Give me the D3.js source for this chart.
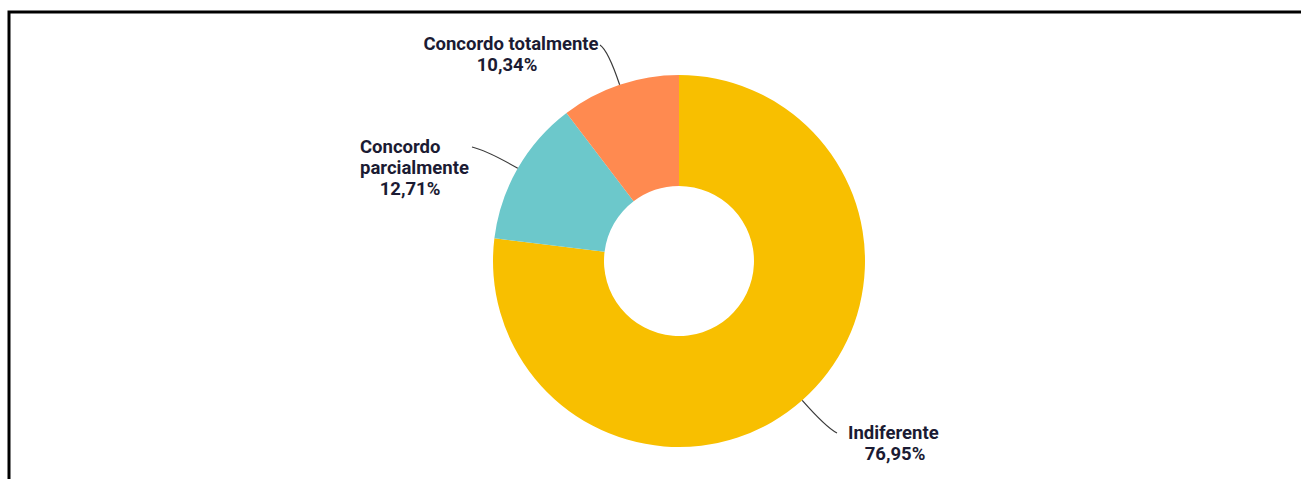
<!DOCTYPE html>
<html>
<head>
<meta charset="utf-8">
<script src="https://cdn.jsdelivr.net/npm/d3@7"></script>
<style>
  html, body { margin: 0; padding: 0; background: #fff; }
  svg { display: block; }
</style>
</head>
<body>
<svg id="donut"></svg>
<script>
// data
const categories = ["Indiferente", "Concordo parcialmente", "Concordo totalmente"];
const values = [76.95, 12.71, 10.34];
const labelLines = [["Indiferente"], ["Concordo", "parcialmente"], ["Concordo totalmente"]];
const colors = ["#F8BF00", "#6CC8CB", "#FF8A50"];

const width = 1301;
const height = 479;
const cx = 679, cy = 261;
const outerR = 186, innerR = 75;

// label placement (layout only)
const labelPos = [
  { x: 848, y: 439, anchor: "start", pctX: 895, end: [837, 433] },
  { x: 360, y: 153, anchor: "start", pctX: 410, end: [472, 147] },
  { x: 511, y: 50, anchor: "middle", pctX: 507, end: [600, 45] }
];

const fmt = (v) => v.toFixed(2).replace(".", ",") + "%";

const svg = d3.select("#donut").attr("width", width).attr("height", height);

// frame
svg.append("path")
  .attr("d", `M9,${height} L9,12 L${width},12`)
  .attr("fill", "none")
  .attr("stroke", "#000")
  .attr("stroke-width", 3);

const pie = d3.pie().sort(null).value((d) => d)(values);
const arc = d3.arc().innerRadius(innerR).outerRadius(outerR);

const g = svg.append("g").attr("transform", `translate(${cx},${cy})`);

g.selectAll("path.slice")
  .data(pie)
  .join("path")
  .attr("class", "slice")
  .attr("fill", (d, i) => colors[i])
  .attr("d", arc);

// leader lines
g.selectAll("path.leader")
  .data(pie)
  .join("path")
  .attr("class", "leader")
  .attr("fill", "none")
  .attr("stroke", "#3a3a3a")
  .attr("stroke-width", 1.2)
  .attr("d", (d, i) => {
    const a = (d.startAngle + d.endAngle) / 2;
    const p0 = [outerR * Math.sin(a), -outerR * Math.cos(a)];
    const r1 = outerR + 36;
    const p1 = [r1 * Math.sin(a), -r1 * Math.cos(a)];
    const e = labelPos[i].end;
    const p2 = [e[0] - cx, e[1] - cy];
    return `M${p0[0]},${p0[1]} Q${p1[0]},${p1[1]} ${p2[0]},${p2[1]}`;
  });

// labels
const lineH = 21;
labelLines.forEach((lines, i) => {
  const L = labelPos[i];
  const t = svg.append("g")
    .attr("font-family", "Roboto, 'Open Sans', sans-serif")
    .attr("font-weight", "bold")
    .attr("font-size", 18.5)
    .attr("fill", "#1b1b33");
  lines.forEach((s, k) => {
    t.append("text")
      .attr("x", L.x)
      .attr("y", L.y + k * lineH)
      .attr("text-anchor", L.anchor)
      .text(s);
  });
  t.append("text")
    .attr("x", L.pctX)
    .attr("y", L.y + lines.length * lineH)
    .attr("text-anchor", "middle")
    .text(fmt(values[i]));
});
</script>
</body>
</html>
